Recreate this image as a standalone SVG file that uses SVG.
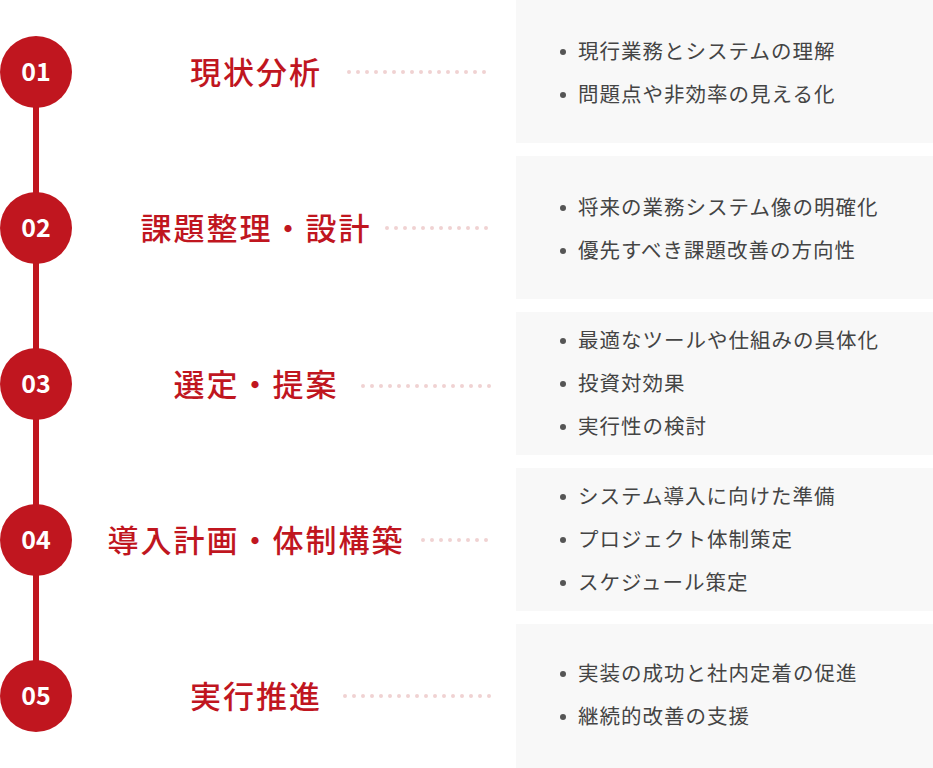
<svg xmlns="http://www.w3.org/2000/svg" width="933" height="768" viewBox="0 0 933 768">
<style>
.box{fill:#f8f8f8}
.num{font:bold 25px "Noto Sans CJK JP","Noto Sans",sans-serif;fill:#fff;text-anchor:middle;dominant-baseline:central}
.t{font:500 31px "Noto Sans CJK JP",sans-serif;fill:#c0161f;text-anchor:middle;dominant-baseline:central;letter-spacing:2px}
.b{font:400 20.5px "Noto Sans CJK JP",sans-serif;fill:#444;dominant-baseline:central;letter-spacing:1px}
.d{stroke:#f0d2d2;stroke-width:4;stroke-linecap:round;stroke-dasharray:0 9}
</style>
<rect class="box" x="516" y="0" width="417" height="143"/>
<rect class="box" x="516" y="156" width="417" height="143"/>
<rect class="box" x="516" y="312" width="417" height="143"/>
<rect class="box" x="516" y="468" width="417" height="143"/>
<rect class="box" x="516" y="624" width="417" height="144"/>
<g id="connectors">
<line x1="36" y1="72" x2="36" y2="696" stroke="#c0161f" stroke-width="6"/>
<line class="d" x1="349" y1="72" x2="490" y2="72"/>
<line class="d" x1="387" y1="228" x2="490" y2="228"/>
<line class="d" x1="363" y1="386" x2="490" y2="386"/>
<line class="d" x1="423" y1="540" x2="490" y2="540"/>
<line class="d" x1="345" y1="696" x2="490" y2="696"/>
</g>
<g id="n1"><circle cx="36" cy="72" r="36" fill="#c0161f"/><text class="num" x="36" y="70">01</text><text class="t" x="256" y="70">現状分析</text>
<circle cx="563" cy="52" r="3" fill="#555"/><text class="b" x="578" y="50">現行業務とシステムの理解</text>
<circle cx="563" cy="95" r="3" fill="#555"/><text class="b" x="578" y="93">問題点や非効率の見える化</text></g>
<g id="n2"><circle cx="36" cy="228" r="36" fill="#c0161f"/><text class="num" x="36" y="226">02</text><text class="t" x="256" y="226">課題整理・設計</text>
<circle cx="563" cy="208" r="3" fill="#555"/><text class="b" x="578" y="206">将来の業務システム像の明確化</text>
<circle cx="563" cy="251" r="3" fill="#555"/><text class="b" x="578" y="249">優先すべき課題改善の方向性</text></g>
<g id="n3"><circle cx="36" cy="384" r="36" fill="#c0161f"/><text class="num" x="36" y="382">03</text><text class="t" x="256" y="382">選定・提案</text>
<circle cx="563" cy="341" r="3" fill="#555"/><text class="b" x="578" y="339">最適なツールや仕組みの具体化</text>
<circle cx="563" cy="384" r="3" fill="#555"/><text class="b" x="578" y="382">投資対効果</text>
<circle cx="563" cy="427" r="3" fill="#555"/><text class="b" x="578" y="425">実行性の検討</text></g>
<g id="n4"><circle cx="36" cy="540" r="36" fill="#c0161f"/><text class="num" x="36" y="538">04</text><text class="t" x="256" y="538">導入計画・体制構築</text>
<circle cx="563" cy="497" r="3" fill="#555"/><text class="b" x="578" y="495">システム導入に向けた準備</text>
<circle cx="563" cy="540" r="3" fill="#555"/><text class="b" x="578" y="538">プロジェクト体制策定</text>
<circle cx="563" cy="583" r="3" fill="#555"/><text class="b" x="578" y="581">スケジュール策定</text></g>
<g id="n5"><circle cx="36" cy="696" r="36" fill="#c0161f"/><text class="num" x="36" y="694">05</text><text class="t" x="256" y="694">実行推進</text>
<circle cx="563" cy="674" r="3" fill="#555"/><text class="b" x="578" y="672">実装の成功と社内定着の促進</text>
<circle cx="563" cy="717" r="3" fill="#555"/><text class="b" x="578" y="715">継続的改善の支援</text></g>
</svg>
